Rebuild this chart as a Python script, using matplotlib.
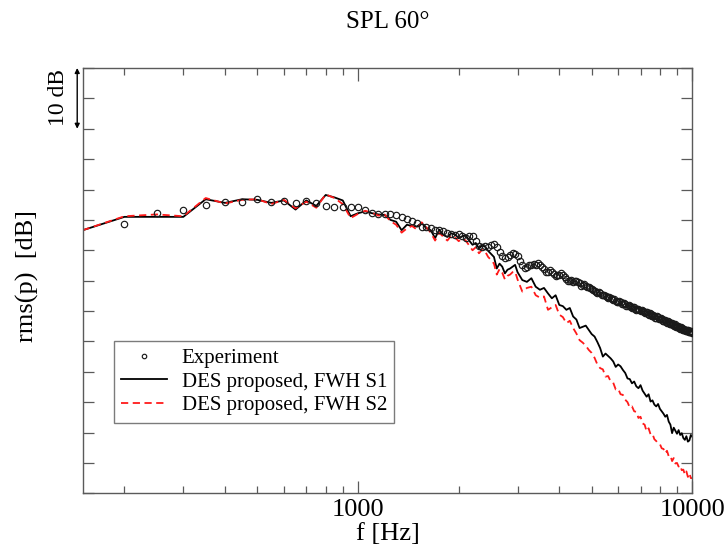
import numpy as np
import matplotlib
matplotlib.use("Agg")
import matplotlib.pyplot as plt
from matplotlib import ticker

plt.rcParams['font.family'] = ['Liberation Serif', 'DejaVu Serif']

# Narrow-band frequency bins [Hz]
freq = np.concatenate([np.arange(150, 3001, 50), np.arange(3100, 10001, 100)])  # DES spectra
freq_exp = np.arange(200, 10001, 50)                                              # measurement

# Sound pressure level, relative dB
spl_exp = [
    44.4, 46.1, 46.7, 47.4, 47.9, 47.9, 48.5, 48.0, 48.1, 47.7,
    48.1, 47.8, 47.3, 47.2, 47.2, 47.2, 47.2, 46.6, 46.1, 46.0,
    45.9, 45.9, 45.8, 45.4, 45.2, 44.9, 44.5, 43.9, 43.9, 43.6,
    43.4, 43.3, 43.1, 42.8, 42.6, 42.5, 42.6, 42.3, 42.1, 42.3,
    42.3, 41.6, 40.7, 40.6, 40.7, 40.6, 40.8, 41.0, 40.6, 39.7,
    39.0, 38.7, 38.9, 39.2, 39.5, 39.4, 39.0,
    38.2, 37.6, 37.1, 37.3, 37.6, 37.5, 37.8, 37.6, 37.9, 37.6,
    37.2, 36.9, 36.5, 36.5, 36.7, 36.4, 36.1, 35.8, 36.0, 35.9,
    36.2, 35.9, 35.6, 35.3, 35.0, 34.9, 35.1, 34.8, 35.0, 34.9,
    34.7, 34.6, 34.2, 34.3, 34.4, 34.1, 33.9, 34.0, 33.8, 33.6,
    33.5, 33.3, 33.2, 32.9, 33.1, 33.0, 32.7, 32.6, 32.7, 32.5,
    32.3, 32.1, 32.3, 32.1, 31.9, 31.8, 31.9, 31.7, 31.5, 31.5,
    31.6, 31.5, 31.2, 31.1, 31.3, 31.2, 30.9, 30.8, 31.0, 30.9,
    30.6, 30.5, 30.7, 30.6, 30.3, 30.2, 30.4, 30.3, 30.1, 30.0,
    30.1, 30.0, 29.8, 29.7, 29.9, 29.8, 29.5, 29.4, 29.6, 29.5,
    29.2, 29.2, 29.3, 29.2, 28.9, 28.9, 29.1, 29.0, 28.7, 28.7,
    28.8, 28.7, 28.4, 28.4, 28.6, 28.5, 28.2, 28.1, 28.3, 28.2,
    27.9, 27.9, 28.1, 28.0, 27.7, 27.6, 27.8, 27.7, 27.4, 27.4,
    27.6, 27.4, 27.2, 27.1, 27.3, 27.2, 26.9, 26.9, 27.1, 26.9,
    26.7, 26.7, 26.9, 26.8, 26.5, 26.5, 26.7, 26.7, 26.4, 26.5,
]

spl_s1 = [
    43.3, 45.5, 45.5, 45.5, 48.4, 47.8, 48.4, 48.3, 47.8, 48.2,
    46.7, 48.2, 47.3, 49.1, 48.7, 48.2, 45.6, 46.1, 46.4, 46.1,
    45.9, 45.8, 45.0, 44.7, 43.3, 44.2, 44.0, 43.9, 44.5, 43.6,
    43.3, 42.0, 43.4, 42.5, 42.2, 42.8, 42.6, 42.0, 42.3, 42.5,
    41.6, 40.9, 41.2, 40.3, 40.8, 40.6, 39.9, 39.4, 38.9, 37.0,
    37.8, 37.3, 36.2, 36.8, 37.0, 37.3, 37.6, 36.4,
    35.1, 34.8, 35.4, 34.0, 33.5, 33.8, 32.9, 32.1, 32.6, 31.0,
    30.8, 30.2, 30.5, 29.1, 28.6, 27.2, 27.4, 27.6, 26.9, 26.2,
    25.8, 24.9, 23.9, 22.5, 23.0, 22.6, 22.2, 21.7, 20.8, 21.2,
    20.9, 20.3, 19.8, 18.9, 18.8, 18.1, 18.4, 17.6, 17.3, 17.8,
    16.9, 16.4, 15.9, 16.3, 15.1, 15.3, 14.6, 14.3, 14.7, 13.9,
    13.5, 13.1, 12.6, 12.9, 11.8, 11.3, 9.9, 10.8, 10.3, 9.8,
    10.4, 9.6, 9.9, 9.1, 8.8, 9.4, 8.5, 8.7, 9.6, 9.3,
]

spl_s2 = [
    43.3, 45.6, 45.9, 45.6, 48.6, 47.7, 48.3, 48.4, 47.6, 48.3,
    46.9, 48.0, 47.0, 49.2, 48.6, 47.6, 45.3, 46.0, 46.5, 46.2,
    45.7, 45.9, 44.8, 44.2, 42.9, 43.6, 44.0, 43.4, 44.6, 43.8,
    42.9, 41.6, 42.9, 42.2, 41.6, 42.4, 42.1, 41.5, 41.9, 41.6,
    40.8, 40.0, 40.5, 39.5, 40.1, 39.8, 38.9, 38.4, 37.8, 36.0,
    36.9, 36.3, 35.2, 35.8, 36.0, 36.4, 36.5, 35.2,
    33.2, 33.8, 34.0, 32.6, 32.2, 32.4, 30.2, 30.6, 31.0, 29.4,
    29.0, 28.0, 28.4, 27.2, 26.3, 25.2, 24.8, 24.3, 23.6, 23.1,
    22.3, 21.2, 20.6, 20.4, 19.2, 19.3, 18.4, 18.2, 17.1, 17.2,
    16.3, 16.2, 15.4, 15.0, 14.1, 14.3, 13.5, 13.4, 12.4, 12.6,
    11.5, 11.3, 10.2, 10.7, 9.7, 9.8, 8.9, 8.6, 8.2, 8.1,
    7.4, 7.3, 6.6, 7.0, 6.1, 6.2, 5.3, 5.8, 4.9, 5.0,
    4.4, 4.6, 3.8, 3.9, 3.1, 3.6, 2.7, 3.3, 2.5, 2.5,
]

labels = ["Experiment", "DES proposed, FWH S1", "DES proposed, FWH S2"]

W, H = 726, 548
fig = plt.figure(figsize=(W / 100, H / 100), dpi=100)
ax = fig.add_axes([82.7 / W, 1 - 493.3 / H, 609.6 / W, 425.3 / H])

frame = '#5a5a5a'

ax.plot(freq_exp, spl_exp, linestyle='none', marker='o', markersize=4.6,
        markerfacecolor='none', markeredgecolor='#1a1a1a', markeredgewidth=0.85,
        label=labels[0], zorder=3)
ax.plot(freq, spl_s1, color='black', linewidth=1.3, label=labels[1], zorder=2)
ax.plot(freq, spl_s2, color='#ff1a1a', linewidth=1.3, dashes=(4, 2.5),
        label=labels[2], zorder=2)

ax.set_xscale('log')
ax.set_xlim(150, 10000)
ax.set_ylim(0, 70)

ax.xaxis.set_major_locator(ticker.FixedLocator([1000, 10000]))
ax.xaxis.set_major_formatter(ticker.FixedFormatter(['1000', '10000']))
ax.xaxis.set_minor_locator(ticker.LogLocator(base=10, subs=np.arange(2, 10)))
ax.xaxis.set_minor_formatter(ticker.NullFormatter())
ax.yaxis.set_major_locator(ticker.MultipleLocator(5))
ax.yaxis.set_major_formatter(ticker.NullFormatter())

ax.tick_params(axis='x', which='major', direction='in', length=9, width=0.9,
               color=frame, top=True, labelsize=19, pad=4)
ax.tick_params(axis='x', which='minor', direction='in', length=5, width=0.9,
               color=frame, top=True)
ax.tick_params(axis='y', which='major', direction='in', length=8, width=0.9,
               color=frame, right=True)
for s in ax.spines.values():
    s.set_color(frame)
    s.set_linewidth(1.0)

fig.text(387.5 / W, 1 - 22 / H, 'SPL 60°', ha='center', va='center', fontsize=18)
fig.text(387.5 / W, 1 - 534 / H, 'f [Hz]', ha='center', va='center', fontsize=19)
fig.text(27 / W, 1 - 276 / H, 'rms(p)  [dB]', ha='center', va='center',
         rotation=90, fontsize=19)

# 10 dB scale bar
ax.annotate('', xy=(-0.009, 70), xytext=(-0.009, 60),
            xycoords=('axes fraction', 'data'), textcoords=('axes fraction', 'data'),
            arrowprops=dict(arrowstyle='<|-|>', color='black', lw=1.0,
                            mutation_scale=7, shrinkA=0, shrinkB=0),
            annotation_clip=False)
fig.text(58 / W, 1 - 98 / H, '10 dB', ha='center', va='center', rotation=90,
         fontsize=17)

leg = ax.legend(loc='upper left', bbox_to_anchor=(114 / W, 1 - 341 / H),
                bbox_transform=fig.transFigure, borderaxespad=0,
                fontsize=15, frameon=True, fancybox=False, edgecolor=frame,
                handlelength=2.2, handletextpad=0.7, labelspacing=0.2,
                borderpad=0.35, markerscale=0.7)
leg.get_frame().set_linewidth(1.0)

fig.savefig('out.png', dpi=100)
